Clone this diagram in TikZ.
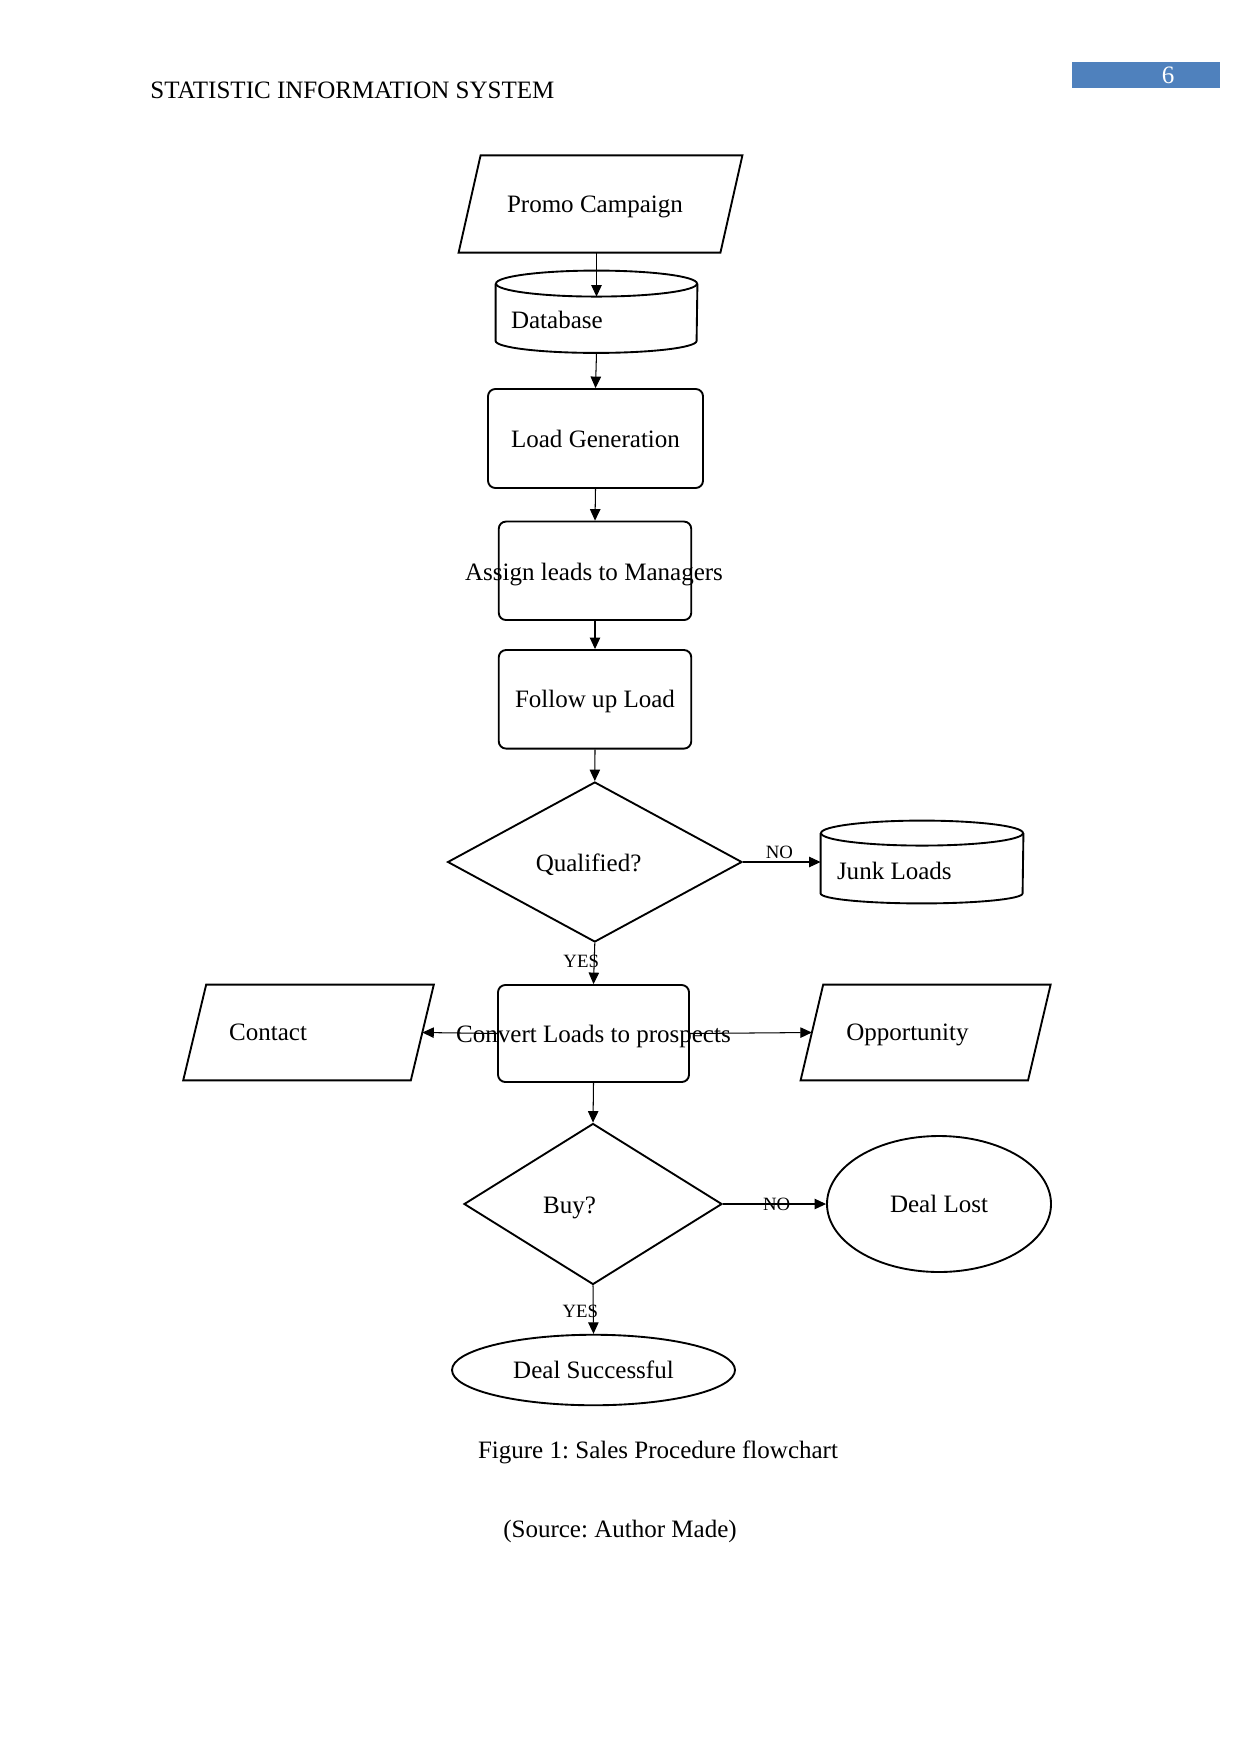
\documentclass[tikz,border=0pt]{standalone}
\usepackage{fontspec}
\setmainfont{Liberation Serif}
\frenchspacing
\usetikzlibrary{shapes.geometric,arrows.meta}
\def\pxu{0.4795pt}
\definecolor{hdrblue}{RGB}{79,129,189}
\newcommand\drawpara[2]{%
  \draw[shp] ([xshift=#2*\pxu]#1.north west) -- ([xshift=#2*\pxu]#1.north east)
    -- ([xshift=-#2*\pxu]#1.south east) -- ([xshift=-#2*\pxu]#1.south west) -- cycle;}
% name, x radius, top y radius, bottom y radius
\newcommand\drawcyl[4]{%
  \draw[shp] ([yshift=-#3*\pxu]#1.north west) -- ([yshift=#4*\pxu]#1.south west)
    arc[start angle=180,end angle=360,x radius=#2*\pxu,y radius=#4*\pxu]
    -- ([yshift=-#3*\pxu]#1.north east);
  \draw[shp] ([yshift=-#3*\pxu]#1.north) ellipse[x radius=#2*\pxu,y radius=#3*\pxu];}
\begin{document}
\begin{tikzpicture}[x=0.4795pt,y=-0.4795pt,
  every node/.style={font=\fontsize{12}{14}\selectfont, inner sep=0pt, text depth=0pt},
  sz/.style 2 args={minimum width=#1*\pxu, minimum height=#2*\pxu},
  shp/.style={draw, line width=0.9pt},
  rbox/.style={shp, rectangle, rounded corners=3.5pt},
  ghost/.style={rectangle, draw=none},
  dia/.style={shp, diamond},
  oval/.style={shp, ellipse},
  arr/.style={line width=0.5pt, -{Triangle[length=5.5pt,width=5pt]}},
  lbl/.style={font=\fontsize{9}{10}\selectfont}]
\useasboundingbox (0,0) rectangle (1241,1754);

% header
\node[anchor=west] (hdr) at (150,90.5) {STATISTIC INFORMATION SYSTEM};
\node[fill=hdrblue, sz={148}{26.5}, anchor=north west] (pgbox) at (1072,61.5) {};
\node[text=white] (pgno) at (1168,75) {6};

% promo campaign
\node[ghost, sz={261}{96.5}] (promo) at (600.5,204) {};
\drawpara{promo}{11}
\node[anchor=west] (promoT) at ([xshift=37*\pxu]promo.west) {Promo Campaign};

% database
\node[ghost, sz={201}{81.5}] (db) at (596.5,311.75) {};
\drawcyl{db}{100.5}{13}{12}
\coordinate (dbin) at ([yshift=-26*\pxu]db.north);
\node[anchor=west] (dbT) at ([xshift=15*\pxu,yshift=-8*\pxu]db.west) {Database};

% boxes
\node[rbox, sz={215}{99}] (load) at (595.5,438.5) {Load Generation};
\node[rbox, sz={192.5}{98.5}] (assign) at (595,570.8) {};
\node (assignT) at (594,572) {Assign leads to Managers};
\node[rbox, sz={192.5}{98.6}] (follow) at (595,699.3) {Follow up Load};

% qualified
\node[dia, sz={294.4}{160}] (qual) at (594.8,862) {};
\node (qualT) at (588.6,863) {Qualified?};

% junk loads
\node[ghost, sz={202}{82}] (junk) at (922,862) {};
\drawcyl{junk}{101}{12.5}{10}
\node[anchor=west] (junkT) at ([xshift=16*\pxu,yshift=-9*\pxu]junk.west) {Junk Loads};

% convert row
\node[rbox, sz={191}{97}] (convert) at (593.5,1033.5) {};
\node[ghost, sz={226.8}{95}] (contact) at (308.5,1032.5) {};
\drawpara{contact}{11.5}
\node[anchor=west] (contactT) at ([xshift=34*\pxu]contact.west) {Contact};
\node[ghost, sz={226.6}{95}] (opp) at (925.6,1032.5) {};
\drawpara{opp}{11.3}
\node[anchor=west] (oppT) at ([xshift=34*\pxu]opp.west) {Opportunity};

% buy
\node[dia, sz={258}{161}] (buy) at (593,1204) {};
\node (buyT) at (569.6,1205) {Buy?};
\node[oval, sz={224}{136}] (lost) at (939,1204) {Deal Lost};
\node[oval, sz={283}{70.5}] (succ) at (593.5,1370) {Deal Successful};

% connectors
\draw[arr] (db.north |- promo.south) -- (dbin);
\draw[arr] (db.south) -- (load.north);
\draw[arr] (load.south) -- (assign.north);
\draw[arr] (assign.south) -- (follow.north);
\draw[arr] (follow.south) -- (qual.north);
\draw[arr] (qual.east) -- node[lbl, above=1.5pt, pos=0.47] (no1) {NO} (junk.west);
\draw[arr] (qual.south) -- node[lbl, pos=0.45, xshift=-13*\pxu] (yes1) {YES} (convert.north);
\draw[arr] (convert.west) -- (contact.east);
\draw[arr] (convert.east) -- (opp.west);
\node (convertT) at (convert) {Convert Loads to prospects};
\draw[arr] (convert.south) -- (buy.north);
\draw[arr] (buy.east) -- node[lbl, pos=0.52] (no2) {NO} (lost.west);
\draw[arr] (buy.south) -- node[lbl, pos=0.53, xshift=-13*\pxu] (yes2) {YES} (succ.north);

% caption
\node (cap) at (658,1450) {Figure 1: Sales Procedure flowchart};
\node (src) at (620,1528.6) {(Source: Author Made)};
\end{tikzpicture}
\end{document}
